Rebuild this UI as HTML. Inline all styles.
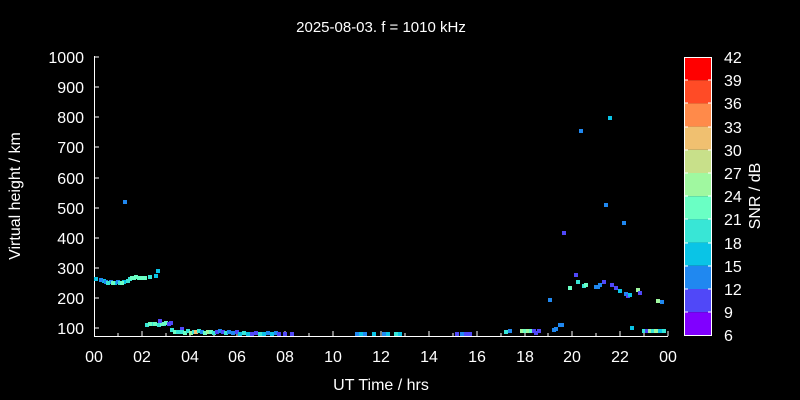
<!DOCTYPE html>
<html><head><style>body{margin:0;background:#000}svg{display:block}text{font-family:"Liberation Sans",sans-serif;fill:#fff}.p rect{width:4px;height:4px}</style></head><body>
<svg width="800" height="400" viewBox="0 0 800 400" xmlns="http://www.w3.org/2000/svg">
<rect width="800" height="400" fill="#000"/>
<text x="381" y="32" font-size="15" text-anchor="middle">2025-08-03. f = 1010 kHz</text>
<g stroke="#fff" stroke-width="1" fill="none">
<path d="M94.5 56 V336.5 H668"/>
<path d="M94 57h5M94 87h5M94 117h5M94 147h5M94 178h5M94 208h5M94 238h5M94 268h5M94 298h5M94 328h5"/>
<path d="M142 336v-5M190 336v-5M237 336v-5M285 336v-5M333 336v-5M381 336v-5M429 336v-5M477 336v-5M525 336v-5M572 336v-5M620 336v-5M668 336v-5"/>
<path d="M118 336v-3M166 336v-3M214 336v-3M261 336v-3M309 336v-3M357 336v-3M405 336v-3M453 336v-3M501 336v-3M548 336v-3M596 336v-3M644 336v-3"/>
</g>
<g font-size="16" text-anchor="end">
<text x="84" y="63">1000</text><text x="84" y="93">900</text><text x="84" y="123">800</text><text x="84" y="153">700</text><text x="84" y="184">600</text><text x="84" y="214">500</text><text x="84" y="244">400</text><text x="84" y="274">300</text><text x="84" y="304">200</text><text x="84" y="334">100</text>
</g>
<g font-size="16" text-anchor="middle">
<text x="94" y="362">00</text><text x="142" y="362">02</text><text x="190" y="362">04</text><text x="237" y="362">06</text><text x="285" y="362">08</text><text x="333" y="362">10</text><text x="381" y="362">12</text><text x="429" y="362">14</text><text x="477" y="362">16</text><text x="525" y="362">18</text><text x="572" y="362">20</text><text x="620" y="362">22</text><text x="668" y="362">00</text>
</g>
<text x="381" y="390" font-size="16" text-anchor="middle">UT Time / hrs</text>
<text transform="translate(20 196) rotate(-90)" font-size="16" text-anchor="middle">Virtual height / km</text>
<g>
<rect x="684" y="57" width="28" height="23.2" fill="#ff0000"/>
<rect x="684" y="80.2" width="28" height="23.2" fill="#ff4b26"/>
<rect x="684" y="103.4" width="28" height="23.2" fill="#ff8a4a"/>
<rect x="684" y="126.6" width="28" height="23.2" fill="#f0c070"/>
<rect x="684" y="149.8" width="28" height="23.2" fill="#c8e08a"/>
<rect x="684" y="173" width="28" height="23.2" fill="#a0f8a0"/>
<rect x="684" y="196.2" width="28" height="23.2" fill="#6affc4"/>
<rect x="684" y="219.4" width="28" height="23.2" fill="#38e6d6"/>
<rect x="684" y="242.6" width="28" height="23.2" fill="#0ac4e6"/>
<rect x="684" y="265.8" width="28" height="23.2" fill="#2088f0"/>
<rect x="684" y="289" width="28" height="23.2" fill="#5048f8"/>
<rect x="684" y="312.2" width="28" height="23.2" fill="#8000ff"/>
<rect x="684.5" y="57.5" width="27" height="278" fill="none" stroke="#fff"/>
<g stroke="#fff"><path d="M684 80h4M708 80h4M684 103h4M708 103h4M684 127h4M708 127h4M684 150h4M708 150h4M684 173h4M708 173h4M684 196h4M708 196h4M684 219h4M708 219h4M684 243h4M708 243h4M684 266h4M708 266h4M684 289h4M708 289h4M684 312h4M708 312h4"/></g>
</g>
<g font-size="16">
<text x="724" y="63">42</text><text x="724" y="86">39</text><text x="724" y="109">36</text><text x="724" y="133">33</text><text x="724" y="156">30</text><text x="724" y="179">27</text><text x="724" y="202">24</text><text x="724" y="225">21</text><text x="724" y="249">18</text><text x="724" y="272">15</text><text x="724" y="295">12</text><text x="724" y="318">9</text><text x="724" y="341">6</text>
</g>
<text transform="translate(760 196) rotate(-90)" font-size="16" text-anchor="middle">SNR / dB</text>
<g class="p">
<g fill="#0ac4e6"><rect x="94" y="277" width="3" height="3"/><rect x="102" y="279" width="3" height="3"/><rect x="113" y="281" width="3" height="3"/><rect x="122" y="280" width="3" height="3"/><rect x="154" y="274" width="3" height="3"/><rect x="156" y="269" width="3" height="3"/></g>
<g fill="#2088f0"><rect x="99" y="278" width="3" height="3"/><rect x="104" y="280" width="3" height="3"/><rect x="109" y="280" width="3" height="3"/><rect x="116" y="280" width="3" height="3"/><rect x="123" y="200" width="3" height="3"/></g>
<g fill="#38e6d6"><rect x="106" y="281" width="3" height="3"/><rect x="118" y="281" width="3" height="3"/><rect x="126" y="279" width="3" height="3"/><rect x="128" y="277" width="3" height="3"/><rect x="148" y="275" width="3" height="3"/></g>
<g fill="#6affc4"><rect x="111" y="281" width="3" height="3"/><rect x="120" y="281" width="3" height="3"/><rect x="130" y="276" width="3" height="3"/><rect x="132" y="276" width="3" height="3"/><rect x="134" y="275" width="3" height="3"/><rect x="137" y="276" width="3" height="3"/><rect x="140" y="276" width="3" height="3"/><rect x="143" y="276" width="3" height="3"/></g>
<g fill="#38e6d6"><rect x="145" y="323" width="3" height="3"/><rect x="151" y="322" width="3" height="3"/><rect x="157" y="323" width="3" height="3"/><rect x="162" y="322" width="3" height="3"/></g>
<g fill="#6affc4"><rect x="148" y="322" width="3" height="3"/><rect x="153" y="322" width="3" height="3"/><rect x="160" y="322" width="3" height="3"/><rect x="164" y="321" width="3" height="3"/></g>
<g fill="#5048f8"><rect x="158" y="319" width="3" height="3"/><rect x="167" y="322" width="3" height="3"/><rect x="169" y="321" width="3" height="3"/><rect x="180" y="327" width="3" height="3"/></g>
</g>
<g class="p">
<rect x="170" y="328" width="3" height="3" fill="#38e6d6"/><rect x="173" y="330" width="3" height="3" fill="#6affc4"/><rect x="176" y="330" width="3" height="3" fill="#38e6d6"/><rect x="180" y="330" width="3" height="3" fill="#38e6d6"/><rect x="183" y="331" width="3" height="3" fill="#6affc4"/><rect x="186" y="329" width="3" height="3" fill="#38e6d6"/><rect x="189" y="331" width="3" height="3" fill="#a0f8a0"/><rect x="192" y="330" width="3" height="3" fill="#38e6d6"/><rect x="194" y="330" width="3" height="3" fill="#f0c070"/><rect x="197" y="329" width="3" height="3" fill="#38e6d6"/><rect x="200" y="330" width="3" height="3" fill="#2088f0"/><rect x="203" y="331" width="3" height="3" fill="#6affc4"/><rect x="206" y="330" width="3" height="3" fill="#a0f8a0"/><rect x="209" y="330" width="3" height="3" fill="#6affc4"/><rect x="212" y="331" width="3" height="3" fill="#38e6d6"/><rect x="215" y="330" width="3" height="3" fill="#5048f8"/><rect x="218" y="329" width="3" height="3" fill="#2088f0"/><rect x="221" y="330" width="3" height="3" fill="#5048f8"/><rect x="224" y="331" width="3" height="3" fill="#38e6d6"/><rect x="227" y="330" width="3" height="3" fill="#2088f0"/><rect x="231" y="331" width="3" height="3" fill="#2088f0"/><rect x="235" y="330" width="3" height="3" fill="#5048f8"/><rect x="238" y="332" width="3" height="3" fill="#0ac4e6"/><rect x="242" y="331" width="3" height="3" fill="#38e6d6"/><rect x="246" y="332" width="3" height="3" fill="#0ac4e6"/><rect x="250" y="332" width="3" height="3" fill="#5048f8"/><rect x="254" y="331" width="3" height="3" fill="#5048f8"/><rect x="258" y="332" width="3" height="3" fill="#38e6d6"/><rect x="262" y="332" width="3" height="3" fill="#0ac4e6"/><rect x="266" y="331" width="3" height="3" fill="#2088f0"/><rect x="270" y="332" width="3" height="3" fill="#0ac4e6"/><rect x="274" y="331" width="3" height="3" fill="#2088f0"/><rect x="277" y="332" width="3" height="3" fill="#5048f8"/><rect x="283" y="332" width="3" height="3" fill="#5048f8"/><rect x="290" y="332" width="3" height="3" fill="#5048f8"/>
<rect x="355" y="332" width="3" height="3" fill="#2088f0"/><rect x="359" y="332" width="3" height="3" fill="#0ac4e6"/><rect x="363" y="332" width="3" height="3" fill="#2088f0"/><rect x="372" y="332" width="3" height="3" fill="#0ac4e6"/><rect x="382" y="332" width="3" height="3" fill="#2088f0"/><rect x="386" y="332" width="3" height="3" fill="#0ac4e6"/><rect x="394" y="332" width="3" height="3" fill="#38e6d6"/><rect x="398" y="332" width="3" height="3" fill="#0ac4e6"/>
<rect x="455" y="332" width="3" height="3" fill="#5048f8"/><rect x="460" y="332" width="3" height="3" fill="#2088f0"/><rect x="464" y="332" width="3" height="3" fill="#5048f8"/><rect x="468" y="332" width="3" height="3" fill="#5048f8"/>
<rect x="504" y="330" width="3" height="3" fill="#38e6d6"/><rect x="508" y="329" width="3" height="3" fill="#2088f0"/>
<rect x="520" y="329" width="3" height="3" fill="#a0f8a0"/><rect x="523" y="329" width="3" height="3" fill="#6affc4"/><rect x="526" y="329" width="3" height="3" fill="#a0f8a0"/><rect x="529" y="329" width="3" height="3" fill="#6affc4"/><rect x="532" y="329" width="3" height="3" fill="#5048f8"/><rect x="534" y="331" width="3" height="3" fill="#5048f8"/><rect x="537" y="329" width="3" height="3" fill="#5048f8"/>
<rect x="548" y="298" width="3" height="3" fill="#2088f0"/><rect x="552" y="328" width="3" height="3" fill="#2088f0"/><rect x="554" y="327" width="3" height="3" fill="#2088f0"/><rect x="558" y="323" width="3" height="3" fill="#2088f0"/><rect x="560" y="323" width="3" height="3" fill="#2088f0"/><rect x="562" y="231" width="3" height="3" fill="#5048f8"/><rect x="568" y="286" width="3" height="3" fill="#6affc4"/><rect x="574" y="273" width="3" height="3" fill="#5048f8"/><rect x="576" y="280" width="3" height="3" fill="#38e6d6"/><rect x="579" y="129" width="3" height="3" fill="#2088f0"/><rect x="582" y="284" width="3" height="3" fill="#38e6d6"/><rect x="584" y="283" width="3" height="3" fill="#6affc4"/><rect x="594" y="285" width="3" height="3" fill="#2088f0"/><rect x="596" y="285" width="3" height="3" fill="#2088f0"/><rect x="598" y="283" width="3" height="3" fill="#2088f0"/><rect x="602" y="280" width="3" height="3" fill="#5048f8"/><rect x="604" y="203" width="3" height="3" fill="#2088f0"/><rect x="608" y="116" width="3" height="3" fill="#0ac4e6"/><rect x="610" y="283" width="3" height="3" fill="#5048f8"/><rect x="614" y="286" width="3" height="3" fill="#5048f8"/><rect x="618" y="289" width="3" height="3" fill="#0ac4e6"/><rect x="622" y="221" width="3" height="3" fill="#2088f0"/><rect x="624" y="292" width="3" height="3" fill="#2088f0"/><rect x="626" y="294" width="3" height="3" fill="#5048f8"/><rect x="628" y="293" width="3" height="3" fill="#0ac4e6"/><rect x="630" y="326" width="3" height="3" fill="#0ac4e6"/><rect x="636" y="288" width="3" height="3" fill="#a0f8a0"/><rect x="638" y="291" width="3" height="3" fill="#5048f8"/>
<rect x="642" y="329" width="3" height="3" fill="#38e6d6"/><rect x="645" y="329" width="3" height="3" fill="#5048f8"/><rect x="648" y="329" width="3" height="3" fill="#a0f8a0"/><rect x="651" y="329" width="3" height="3" fill="#38e6d6"/><rect x="654" y="329" width="3" height="3" fill="#a0f8a0"/><rect x="656" y="299" width="3" height="3" fill="#a0f8a0"/><rect x="658" y="329" width="3" height="3" fill="#0ac4e6"/><rect x="660" y="300" width="3" height="3" fill="#2088f0"/><rect x="662" y="329" width="3" height="3" fill="#38e6d6"/>
</g>
</svg>
</body></html>
